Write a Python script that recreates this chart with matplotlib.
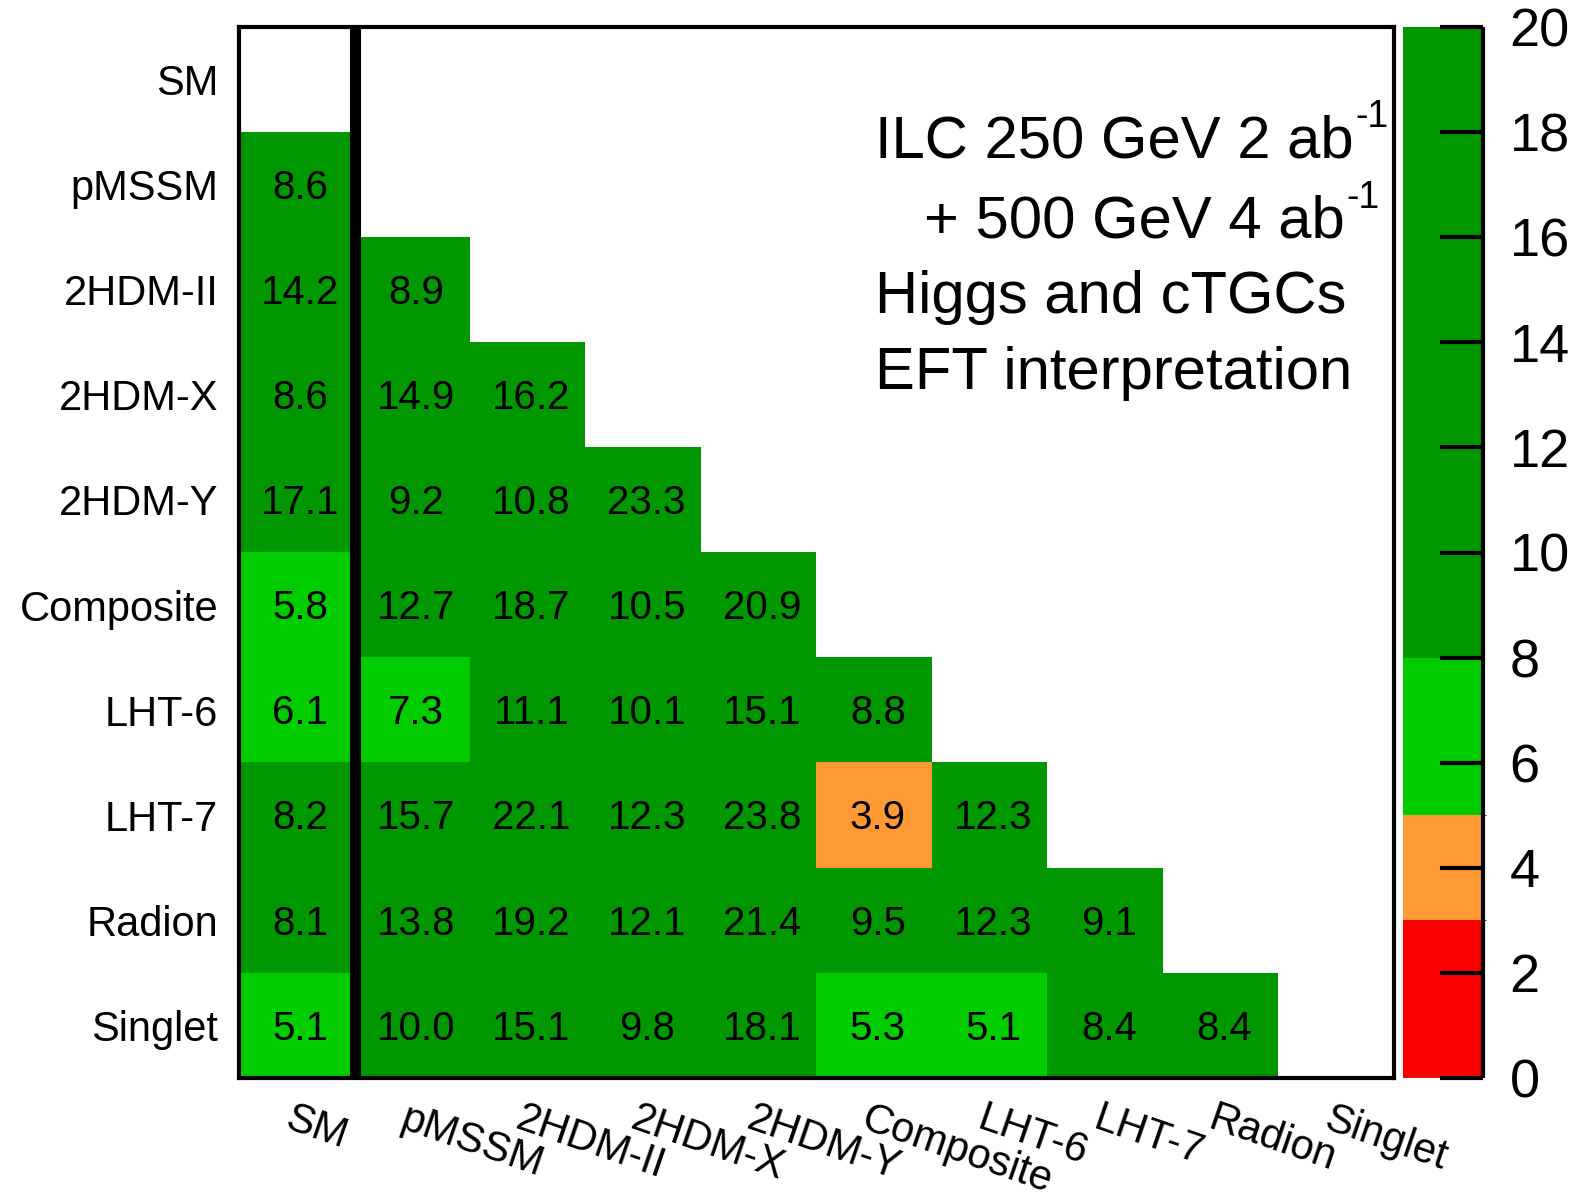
import numpy as np
import matplotlib.pyplot as plt
from matplotlib.colors import ListedColormap, BoundaryNorm
from matplotlib.transforms import ScaledTranslation

plt.rcParams['font.family'] = ['Liberation Sans', 'DejaVu Sans']

models = ['SM', 'pMSSM', '2HDM-II', '2HDM-X', '2HDM-Y', 'Composite',
          'LHT-6', 'LHT-7', 'Radion', 'Singlet']

# lower triangle, row i holds the separations from models[0..i-1]
rows = [
    [],
    [8.6],
    [14.2, 8.9],
    [8.6, 14.9, 16.2],
    [17.1, 9.2, 10.8, 23.3],
    [5.8, 12.7, 18.7, 10.5, 20.9],
    [6.1, 7.3, 11.1, 10.1, 15.1, 8.8],
    [8.2, 15.7, 22.1, 12.3, 23.8, 3.9, 12.3],
    [8.1, 13.8, 19.2, 12.1, 21.4, 9.5, 12.3, 9.1],
    [5.1, 10.0, 15.1, 9.8, 18.1, 5.3, 5.1, 8.4, 8.4],
]

levels = [0, 3, 5, 8, 20]
colors = ['#ff0000', '#ff9933', '#00cc00', '#009700']
cbar_ticks = list(range(0, 21, 2))

# (text, superscript) per line of the info box
info_lines = [('ILC 250 GeV 2 ab', '-1'),
              ('+ 500 GeV 4 ab', '-1'),
              ('Higgs and cTGCs', ''),
              ('EFT interpretation', '')]

n = len(models)
mat = np.full((n, n), np.nan)
for i, r in enumerate(rows):
    for j, v in enumerate(r):
        mat[i, j] = v

cmap = ListedColormap(colors)
cmap.set_over(colors[-1])
cmap.set_bad('white')
norm = BoundaryNorm(levels, cmap.N)

W, H = 1585, 1200
fig = plt.figure(figsize=(W / 100, H / 100), dpi=100)
ax = fig.add_axes([239 / W, 1 - 1078 / H, (1394 - 239) / W, (1078 - 27) / H])
cax = fig.add_axes([1403 / W, 1 - 1078 / H, (1483 - 1403) / W, (1078 - 27) / H])

im = ax.imshow(np.ma.masked_invalid(mat), cmap=cmap, norm=norm,
               aspect='auto', interpolation='nearest')

for i, r in enumerate(rows):
    for j, v in enumerate(r):
        ax.text(j + 0.03, i + 0.03, f'{v:.1f}', ha='center', va='center',
                fontsize=29)

ax.axvline(0.5, color='black', lw=8)

for s in ax.spines.values():
    s.set_linewidth(3)

ax.set_xticks(range(n))
ax.set_yticks(range(n))
ax.set_yticklabels(models, fontsize=30)
ax.set_xticklabels(models, fontsize=30, rotation=-19, ha='left',
                   rotation_mode='anchor')
ax.tick_params(length=0)
ax.tick_params(axis='y', pad=15)
ax.tick_params(axis='x', pad=15)
shift = ScaledTranslation(-4 / 100, 0, fig.dpi_scale_trans)
for lab in ax.get_xticklabels():
    lab.set_transform(lab.get_transform() + shift)

cb = fig.colorbar(im, cax=cax, boundaries=levels, spacing='proportional',
                  ticks=cbar_ticks)
cb.outline.set_visible(False)
cax.plot([1, 1], [0, 1], transform=cax.transAxes, color='black', lw=3,
         clip_on=False, solid_capstyle='butt')
cax.yaxis.set_ticks_position('right')
cax.tick_params(direction='in', length=31, width=3, labelsize=39, pad=19)

renderer = fig.canvas.get_renderer()
xs = [875, 924, 875, 875]
ys = [157, 238, 313, 389]
for (txt, sup), x, y in zip(info_lines, xs, ys):
    t = fig.text(x / W, 1 - y / H, txt, fontsize=43, ha='left', va='baseline')
    if sup:
        bb = t.get_window_extent(renderer)
        fig.text((bb.x1 + 2) / W, 1 - (y - 30) / H, sup, fontsize=27,
                 ha='left', va='baseline')

fig.savefig('out.png', dpi=100)
